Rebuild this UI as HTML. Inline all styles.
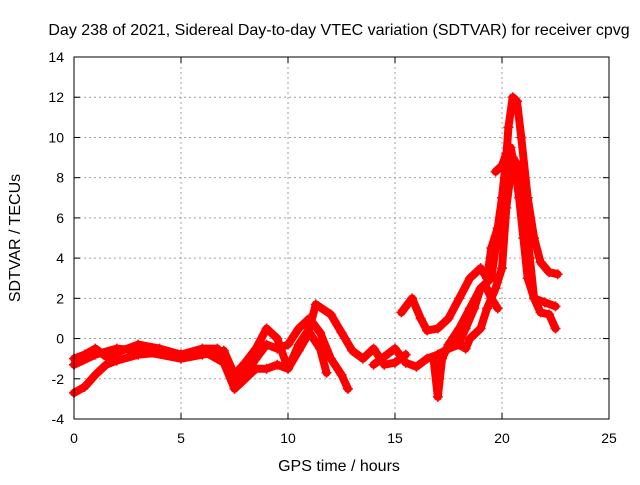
<!DOCTYPE html>
<html><head><meta charset="utf-8"><style>
body{margin:0;background:#fff}
svg text{font-family:"Liberation Sans",sans-serif;font-size:14px;fill:#000}
svg text.big{font-size:16px}
</style></head><body>
<svg id="chart" width="640" height="480" xmlns="http://www.w3.org/2000/svg">
<rect width="640" height="480" fill="#fff"/>
<text class="big" x="339" y="35" text-anchor="middle">Day 238 of 2021, Sidereal Day-to-day VTEC variation (SDTVAR) for receiver cpvg</text>
<text class="big" x="339" y="471" text-anchor="middle">GPS time / hours</text>
<text class="big" transform="translate(20,238) rotate(-90)" text-anchor="middle">SDTVAR / TECUs</text>
<g id="grid"></g><g id="marks"></g><g id="axes"></g>
</svg>
<script>
const xTicks=[0,5,10,15,20,25];
const yTicks=[-4,-2,0,2,4,6,8,10,12,14];
const trackA=[[0,-1],[0.5,-0.8],[1,-0.5],[1.5,-0.9],[2,-0.7],[3,-0.3],[4,-0.5],[5,-0.8],[6,-0.5],[6.7,-0.5],[7.2,-1.5],[7.5,-2.3],[8,-1.8],[8.5,-1],[9,-0.3],[9.5,-0.5],[10,-0.3],[10.5,0.5],[11,1],[11.5,0.3],[12,-1],[12.5,-1.8],[12.8,-2.5]];
const trackB=[[0,-2.7],[0.5,-2.4],[1,-1.8],[1.5,-1.3],[2,-1.1],[3,-0.8],[4,-0.7],[5,-0.8],[6,-0.6],[7,-1.2],[7.5,-2.5],[8,-2],[8.5,-1.5],[9,-1.5],[9.5,-1.3],[10,-1.5],[10.5,-0.6],[11,0.3],[11.5,-0.5],[11.8,-1.7]];
const trackC=[[0,-1.3],[1,-0.8],[2,-0.5],[3,-0.6],[5,-1.0],[6,-0.8],[7,-0.6],[7.5,-1.8],[8,-1.2],[8.5,-0.5],[9,0.5],[9.5,0],[10,-1.5],[10.5,-0.3],[11,0.5],[11.3,1.7],[12,1.2],[12.5,0.3],[13,-0.6],[13.5,-1],[14,-0.5],[14.5,-1.3],[15,-1.2],[15.5,-0.8]];
const trackD=[[15.3,1.3],[15.8,2],[16.2,1],[16.5,0.4],[17,0.5],[17.5,1],[18,2],[18.5,3],[19,3.5],[19.3,3],[19.5,4.5],[19.8,5.5],[20,7],[20.2,9],[20.3,10.5],[20.5,12],[20.7,11.8],[20.9,10],[21.2,7],[21.5,5],[21.8,3.8],[22.2,3.3],[22.6,3.2]];
const trackE=[[16.8,-1],[17,-2.9],[17.2,-1],[17.5,-0.3],[18,0.5],[18.5,1.5],[19,2.5],[19.5,3],[19.7,4.5],[20,6.5],[20.2,8.5],[20.4,9.5],[20.6,8.5],[20.8,7],[21,5],[21.2,3],[21.5,2],[22,1.8],[22.5,1.6]];
const trackF=[[14,-1.3],[15,-0.5],[15.5,-1.2],[16,-1.4],[16.5,-1],[17,-0.8],[17.5,-0.5],[18,-0.3],[18.3,-0.5],[18.5,0],[19,0.5],[19.3,1.5],[19.7,2.5],[20,3.5],[20.2,6.5],[20.5,9],[20.8,8.5],[21,7],[21.3,4],[21.5,2],[21.8,1.3],[22.2,1.2],[22.5,0.5]];
const trackG=[[17.5,-0.5],[18,-0.2],[18.3,0.5],[18.7,1.5],[19,2.5],[19.2,2.7],[19.5,2],[19.8,1.5]];
const trackH=[[19.7,8.3],[20,8.6],[20.2,9.2]];
const tracks=[trackA,trackB,trackC,trackD,trackE,trackF,trackG,trackH];
const X0=74,X1=609,Y0=419,Y1=57;
const px=x=>X0+(x-0)/25*(X1-X0);
const py=y=>Y0-(y+4)/18*(Y0-Y1);
const NS="http://www.w3.org/2000/svg";
const g=document.getElementById('grid'),m=document.getElementById('marks'),a=document.getElementById('axes');
function mk(t,at,p){const e=document.createElementNS(NS,t);for(const k in at)e.setAttribute(k,at[k]);p.appendChild(e);return e;}
xTicks.forEach(v=>{
 const l=mk('line',{x1:px(v),x2:px(v),y1:Y1,y2:Y0,stroke:'#a0a0a0','stroke-dasharray':'2,3'},g);
 
 
 const t=mk('text',{x:px(v),y:Y0+24,'text-anchor':'middle'},a);t.textContent=v;
 
 
 mk('line',{x1:px(v),x2:px(v),y1:Y0,y2:Y0-6,stroke:'#000'},a);
 mk('line',{x1:px(v),x2:px(v),y1:Y1,y2:Y1+6,stroke:'#000'},a);
});
yTicks.forEach(v=>{
 const l=mk('line',{x1:X0,x2:X1,y1:py(v),y2:py(v),stroke:'#a0a0a0','stroke-dasharray':'2,3'},g);
 
 
 const t=mk('text',{x:X0-10,y:py(v)+5,'text-anchor':'end'},a);t.textContent=v;
 
 
 mk('line',{x1:X0,x2:X0+6,y1:py(v),y2:py(v),stroke:'#000'},a);
 mk('line',{x1:X1,x2:X1-6,y1:py(v),y2:py(v),stroke:'#000'},a);
});
const fr=mk('rect',{x:X0,y:Y1,width:X1-X0,height:Y0-Y1,fill:'none',stroke:'#000'},a);


tracks.forEach((tr,i)=>{
 const pl=mk('polyline',{points:tr.map(p=>px(p[0])+','+py(p[1])).join(' '),fill:'none',stroke:'#f00','stroke-width':8,'stroke-linejoin':'round','stroke-linecap':'round'},m);
 
 
 tr.forEach(p=>{
  const c=mk('path',{d:`M${px(p[0])-5},${py(p[1])}h10M${px(p[0])},${py(p[1])-5}v10`,stroke:'#f00','stroke-width':1.5},m);
  
  
 });
});
</script>
</body></html>
